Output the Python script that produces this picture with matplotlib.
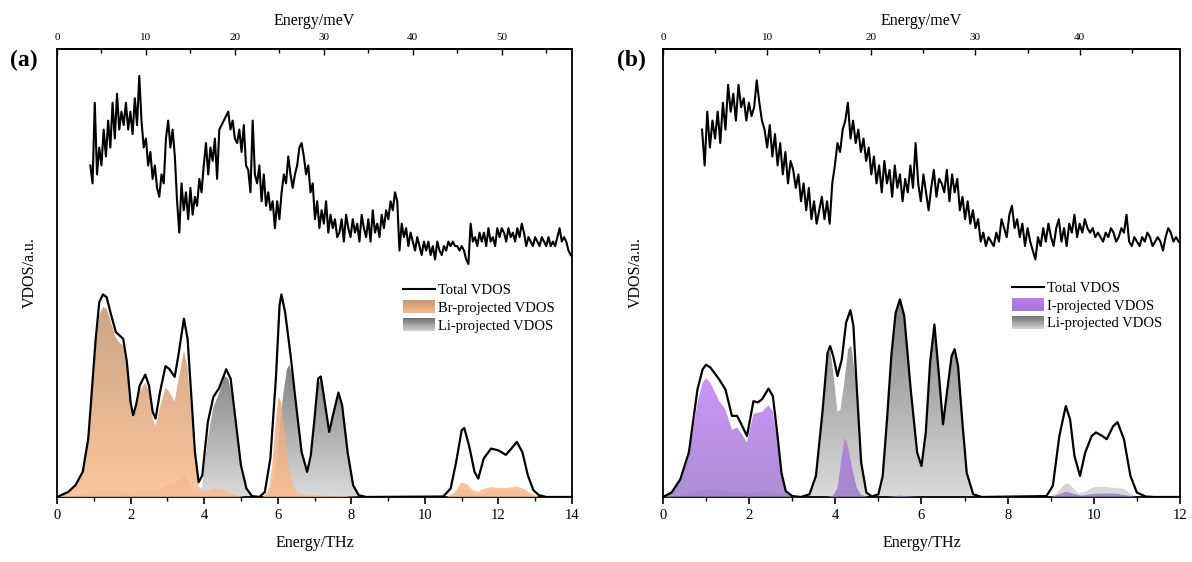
import numpy as np
import matplotlib
matplotlib.use("Agg")
import matplotlib.pyplot as plt
from matplotlib.colors import LinearSegmentedColormap, to_rgb
from matplotlib.legend_handler import HandlerBase
from matplotlib.patches import Rectangle
from matplotlib.lines import Line2D

plt.rcParams['font.family'] = ['Liberation Serif', 'DejaVu Serif']

THZ_TO_MEV = 4.1357

# ---------------- panel (a): LiBr ----------------
# measured VDOS (top curve), energy grid in meV
exp_a_mev = np.arange(3.75, 57.76, 0.25)
exp_a = [74, 70, 88, 72, 78, 74, 82, 76,
         84, 78, 88, 80, 90, 82, 86, 83,
         88, 82, 86, 81, 89, 83, 94, 84,
         78, 80, 74, 77, 71, 74, 69, 67,
         72, 70, 80, 84, 78, 82, 76, 66,
         59, 70, 64, 68, 62, 69, 63, 67,
         65, 71, 68, 74, 79, 72, 78, 75,
         80, 71, 82, 83, 84, 85, 86, 82,
         84, 80, 79, 82, 77, 83, 74, 73,
         68, 84, 72, 70, 74, 66, 72, 65,
         68, 64, 66, 60, 66, 62, 68, 72,
         70, 76, 72, 69, 72, 74, 78, 79,
         76, 72, 74, 68, 70, 62, 66, 60,
         64, 61, 66, 59, 63, 60, 62, 58,
         59, 62, 57, 63, 60, 58, 62, 59,
         61, 57, 63, 60, 58, 62, 57, 64,
         59, 61, 58, 63, 60, 64, 62, 66,
         64, 68, 66, 55, 61, 58, 60, 56,
         59, 57, 55, 58, 56, 54, 57, 55,
         57, 54, 56, 53, 57, 55, 54, 56,
         55, 57, 56, 57, 56, 56, 55, 56,
         55, 53, 52, 61, 57, 58, 56, 59,
         57, 59, 56, 60, 57, 58, 56, 60,
         58, 60, 59, 57, 60, 58, 59, 57,
         60, 58, 61, 59, 56, 58, 57, 56,
         58, 57, 56, 58, 57, 56, 58, 56,
         57, 56, 58, 60, 57, 58, 57, 55,
         54]

# calculated total VDOS (THz, a.u.)
tot_a_x = [0.0, 0.3, 0.5, 0.7, 0.85, 0.95, 1.05, 1.15, 1.25, 1.35, 1.45, 1.6, 1.72, 1.8, 1.9, 2.0,
           2.07, 2.15, 2.25, 2.4, 2.5, 2.6, 2.68, 2.8, 2.95, 3.05, 3.2, 3.3, 3.45, 3.55, 3.65, 3.75,
           3.85, 3.95, 4.1, 4.25, 4.4, 4.6, 4.72, 4.85, 5.0, 5.15, 5.3, 5.5, 5.65, 5.8, 5.95, 6.05,
           6.1, 6.2, 6.35, 6.5, 6.65, 6.8, 6.9, 7.0, 7.1, 7.17, 7.25, 7.4, 7.5, 7.65, 7.75, 7.9,
           8.05, 8.2, 8.4, 10.5, 10.7, 10.85, 11.0, 11.07, 11.2, 11.35, 11.45, 11.6, 11.8, 12.0,
           12.2, 12.35, 12.5, 12.65, 12.8, 12.95, 13.1, 13.3, 14.0]
tot_a_y = [0, 1.1, 2.6, 5.6, 13, 24, 35, 43.5, 45.2, 44.6, 41.3, 36.8, 35.9, 35.3, 30.1, 21.2,
           18.2, 20.5, 24.9, 27.3, 24.9, 19, 17.5, 23.4, 29.2, 28.6, 26.8, 31.6, 39.8, 35.3, 22.7, 10,
           3.3, 4.8, 16.7, 22.3, 24.2, 28.5, 26.4, 17.5, 7.1, 1.9, 0.2, 0, 1.1, 8.6, 26.4, 42.8,
           45.2, 41.3, 31.6, 20.5, 10, 5.6, 9.3, 17.5, 26.4, 26.9, 22.7, 14.5, 18.2, 23.3, 20.5, 10,
           2.6, 0.4, 0, 0.1, 1.9, 7.8, 14.9, 15.4, 11.5, 5.6, 4.1, 8.6, 10.8, 10.4,
           9.4, 10.8, 12.3, 10, 4.8, 1.5, 0.4, 0, 0]

br_x = [0.0, 0.3, 0.5, 0.7, 0.85, 0.95, 1.05, 1.15, 1.25, 1.35, 1.45, 1.6, 1.72, 1.8, 1.9, 2.0,
        2.07, 2.15, 2.25, 2.4, 2.5, 2.6, 2.68, 2.8, 2.95, 3.05, 3.2, 3.3, 3.45, 3.55, 3.65, 3.75,
        3.85, 3.95, 4.1, 4.3, 4.5, 4.7, 4.9, 5.1, 5.6, 5.75, 5.85, 5.95, 6.02, 6.1, 6.2, 6.3,
        6.4, 6.55, 6.8, 7.1, 7.4, 7.7, 8.0, 8.3, 10.6, 10.8, 11.0, 11.15, 11.3, 11.45, 11.6, 11.8,
        12.0, 12.2, 12.5, 12.7, 12.9, 13.1, 14.0]
br_y = [0, 1.0, 2.5, 5.3, 12, 22, 33, 40.5, 42.4, 42, 39.5, 35.5, 34.3, 33.8, 28.5, 20,
        17.5, 19.5, 23.5, 25.6, 23.5, 17.5, 15.8, 20, 24.4, 23.5, 21.3, 26, 32.6, 29, 19, 8,
        2.5, 1.3, 1.5, 1.9, 1.7, 1.0, 0.3, 0, 0, 1.5, 7, 17, 22.5, 21, 14, 7,
        3, 1, 0.3, 0.4, 0.2, 0.3, 0.1, 0, 0, 1.0, 3.2, 2.8, 1.5, 1.2, 1.8, 2.2,
        2.0, 2.0, 2.3, 1.8, 0.7, 0, 0]

li_a_x = [0.0, 0.5, 0.8, 1.0, 1.3, 1.6, 1.8, 2.0, 2.2, 2.4, 2.6, 2.8, 3.0, 3.2, 3.35, 3.45,
          3.55, 3.7, 3.85, 3.95, 4.1, 4.25, 4.4, 4.55, 4.65, 4.75, 4.85, 5.0, 5.15, 5.3, 5.5, 5.7,
          5.85, 5.95, 6.05, 6.15, 6.25, 6.32, 6.45, 6.6, 6.72, 6.82, 6.92, 7.0, 7.1, 7.17, 7.25, 7.4,
          7.5, 7.65, 7.75, 7.9, 8.05, 8.2, 8.4, 10.6, 10.85, 11.0, 11.15, 11.35, 11.6, 11.8, 12.1,
          12.5, 12.8, 13.0, 13.2, 14.0]
li_a_y = [0, 0.3, 0.9, 1.3, 1.5, 1.4, 1.2, 0.8, 1.3, 1.6, 1.2, 1.8, 2.6, 3.0, 3.9, 4.6,
          3.8, 1.5, 1.0, 2.5, 13, 20, 23, 27, 26.5, 23, 16, 6.5, 1.5, 0.2, 0, 0.5,
          2.5, 7, 15, 23, 28.5, 29.5, 25, 14, 8, 5.5, 8.5, 16, 25, 26.5, 22, 14,
          17.5, 23, 20, 9.5, 2.5, 0.3, 0, 0, 0.8, 1.9, 1.5, 0.5, 0.8, 1.4, 1.6,
          1.4, 0.8, 0.2, 0, 0]

# ---------------- panel (b): LiI ----------------
exp_b_mev = np.arange(3.75, 49.51, 0.25)
exp_b = [82, 74, 86, 78, 84, 80, 86, 79,
         88, 82, 92, 86, 90, 84, 92, 87,
         89, 84, 88, 85, 87, 93, 88, 84,
         82, 78, 83, 76, 81, 74, 79, 72,
         77, 70, 75, 73, 69, 72, 66, 70,
         64, 69, 62, 66, 61, 64, 67, 62,
         66, 61, 70, 74, 79, 77, 82, 84,
         88, 80, 84, 79, 82, 77, 80, 75,
         78, 72, 76, 70, 74, 68, 75, 70,
         73, 67, 74, 69, 72, 66, 71, 68,
         74, 69, 79, 70, 66, 72, 68, 64,
         69, 73, 67, 71, 70, 68, 73, 66,
         72, 68, 71, 64, 67, 62, 66, 61,
         64, 60, 62, 57, 59, 56, 58, 57,
         56, 59, 57, 62, 60, 58, 63, 65,
         60, 62, 58, 61, 56, 60, 57, 55,
         53, 58, 56, 60, 57, 61, 58, 56,
         60, 62, 57, 60, 56, 61, 59, 63,
         58, 61, 59, 62, 60, 59, 60, 58,
         59, 58, 57, 59, 58, 60, 59, 57,
         58, 60, 59, 63, 57, 56, 58, 57,
         56, 58, 57, 59, 58, 56, 57, 58,
         57, 55, 58, 60, 59, 57, 58, 57]

tot_b_x = [0.0, 0.2, 0.4, 0.6, 0.8, 0.92, 1.0, 1.1, 1.3, 1.45, 1.6, 1.72, 1.8, 1.95, 2.1, 2.2,
           2.3, 2.45, 2.55, 2.65, 2.75, 2.85, 3.0, 3.2, 3.4, 3.55, 3.7, 3.82, 3.88, 3.95, 4.05, 4.15,
           4.25, 4.35, 4.42, 4.5, 4.6, 4.72, 4.85, 5.0, 5.1, 5.2, 5.3, 5.4, 5.5, 5.6, 5.75, 5.9,
           6.0, 6.1, 6.2, 6.3, 6.4, 6.5, 6.6, 6.7, 6.77, 6.85, 6.95, 7.05, 7.2, 7.4, 8.9, 9.05,
           9.2, 9.35, 9.45, 9.55, 9.68, 9.8, 9.95, 10.05, 10.2, 10.3, 10.45, 10.55, 10.7, 10.85,
           11.0, 11.2, 11.4, 12.0]
tot_b_y = [0, 1.0, 3.9, 9.9, 24, 28.5, 29.5, 28.9, 26.3, 24, 18.1, 18.1, 16.6, 13.6, 21.4, 21.1,
           21.8, 24.2, 22.5, 14.4, 5.4, 1.3, 0.2, 0, 0.6, 4.7, 18.8, 32.2, 33.7, 31.5, 27, 30.7,
           38.9, 41.7, 38.2, 24, 7.7, 1, 0.1, 0.6, 4.7, 17.3, 31.5, 41.1, 44.1, 40.4, 24, 9.9,
           6.9, 14.4, 30, 38.5, 27.8, 16.2, 24, 31.5, 33, 29.2, 16.6, 5.4, 0.6, 0, 0.2, 2.5,
           13.6, 20.3, 17.3, 9.2, 4.7, 9.9, 13.6, 14.4, 13.6, 12.9, 15.8, 16.7, 12.9, 4.7,
           1, 0.1, 0, 0]

i_x = [0.0, 0.2, 0.4, 0.6, 0.8, 0.92, 1.0, 1.1, 1.3, 1.45, 1.6, 1.72, 1.8, 1.95, 2.1, 2.2,
       2.3, 2.45, 2.55, 2.65, 2.75, 2.85, 3.0, 3.2, 3.8, 3.95, 4.05, 4.15, 4.22, 4.3, 4.4, 4.5,
       4.6, 4.75, 5.2, 5.5, 5.8, 6.0, 9.0, 9.2, 9.35, 9.5, 9.7, 10.0, 10.3, 10.55, 10.8, 11.0, 12.0]
i_y = [0, 0.8, 3.5, 9, 21, 25.5, 26.5, 25.5, 21.5, 19.5, 15, 15.5, 14.5, 12.2, 18.5, 18.8,
       19, 20.5, 19, 13, 5, 1.2, 0.1, 0, 0, 0.3, 2, 9, 13.2, 11, 6, 2,
       0.5, 0, 0, 0.3, 0.1, 0, 0, 0.6, 1.2, 0.8, 0.3, 0.7, 0.8, 0.7, 0.3, 0, 0]

li_b_x = [0.0, 0.4, 0.7, 1.0, 1.3, 1.6, 2.0, 2.4, 2.7, 2.9, 3.1, 3.35, 3.55, 3.7, 3.82, 3.88,
          3.95, 4.05, 4.12, 4.2, 4.3, 4.37, 4.45, 4.55, 4.65, 4.75, 4.9, 5.0, 5.1, 5.2, 5.3, 5.4,
          5.5, 5.6, 5.75, 5.9, 6.0, 6.1, 6.2, 6.3, 6.4, 6.5, 6.6, 6.7, 6.77, 6.85, 6.95, 7.05,
          7.2, 7.4, 9.0, 9.15, 9.3, 9.4, 9.5, 9.65, 9.8, 10.0, 10.2, 10.5, 10.7, 10.85, 11.0, 11.2, 12.0]
li_b_y = [0, 0.2, 1.2, 1.8, 1.5, 1.1, 1.0, 1.3, 0.8, 0.2, 0, 0.2, 4.2, 18, 31.5, 33,
          28, 19, 19.5, 25, 33, 33.8, 28, 14, 4.5, 0.8, 0, 0.5, 4.5, 17, 31.3, 41,
          44, 40.3, 24, 9.8, 6.8, 14.3, 30, 38.5, 27.7, 16.1, 24, 31.5, 33, 29.2, 16.5, 5.3,
          0.5, 0, 0, 1.0, 2.6, 3.1, 2.2, 0.8, 1.2, 2.2, 2.3, 2.0, 1.8, 0.8, 0.1, 0, 0]

ORANGE = ('#c29672', '#fdbb8b')
GRAY = ('#6c6c6c', '#d4d4d4')
PURPLE = ('#bf7cf8', '#9a76cc')


def gradient_fill(ax, x, y, colors, alpha, zorder):
    x = np.asarray(x, float)
    y = np.asarray(y, float)
    poly = ax.fill_between(x, 0, y, facecolor='none', edgecolor='none')
    cmap = LinearSegmentedColormap.from_list('g', [colors[1], colors[0]])
    grad = np.linspace(0, 1, 256).reshape(-1, 1)
    im = ax.imshow(grad, cmap=cmap, origin='lower', aspect='auto',
                   extent=[x.min(), x.max(), 0, y.max()], alpha=alpha, zorder=zorder)
    im.set_clip_path(poly.get_paths()[0], transform=ax.transData)


class GradientHandle:
    def __init__(self, colors):
        self.colors = colors


class HandlerGradient(HandlerBase):
    def create_artists(self, legend, orig_handle, xdescent, ydescent, width, height, fontsize, trans):
        top = np.array(to_rgb(orig_handle.colors[0]))
        bot = np.array(to_rgb(orig_handle.colors[1]))
        n = 16
        h = height * 1.3
        y0 = -ydescent - 0.15 * height
        arts = []
        for i in range(n):
            f = (i + 0.5) / n
            col = bot * (1 - f) + top * f
            arts.append(Rectangle((-xdescent, y0 + h * i / n), width, h / n * 1.05,
                                  facecolor=col, edgecolor='none', transform=trans))
        return arts


def setup(ax, xmax, mev_major, mev_minor):
    ax.set_xlim(0, xmax)
    ax.set_ylim(0, 100)
    ax.set_yticks([])
    ax.set_xticks(np.arange(0, xmax + 0.1, 2))
    ax.set_xticks(np.arange(1, xmax, 2), minor=True)
    ax.tick_params(axis='x', which='major', direction='out', length=5, width=1.2, labelsize=10.5, pad=4)
    ax.tick_params(axis='x', which='minor', direction='out', length=3, width=1.0)
    for s in ax.spines.values():
        s.set_linewidth(1.3)
    ax.set_xlabel('Energy/THz', fontsize=11.5, labelpad=9)
    ax.set_ylabel('VDOS/a.u.', fontsize=11.5, labelpad=14)
    sec = ax.secondary_xaxis('top', functions=(lambda t: t * THZ_TO_MEV, lambda m: m / THZ_TO_MEV))
    sec.set_xticks(mev_major)
    sec.set_xticks(mev_minor, minor=True)
    sec.tick_params(axis='x', which='major', direction='in', length=4, width=1.0, labelsize=8, pad=5)
    sec.tick_params(axis='x', which='minor', direction='in', length=3, width=1.0)
    sec.spines['top'].set_linewidth(1.3)
    sec.set_xlabel('Energy/meV', fontsize=11.5, labelpad=6)


fig = plt.figure(figsize=(11.92, 5.62), dpi=100)
ax1 = fig.add_axes([0.0478, 0.1157, 0.4321, 0.7972])
ax2 = fig.add_axes([0.5562, 0.1157, 0.4337, 0.7972])

# panel (a)
gradient_fill(ax1, li_a_x, li_a_y, GRAY, 0.85, 2)
gradient_fill(ax1, br_x, br_y, ORANGE, 0.85, 3)
ax1.plot(tot_a_x, tot_a_y, color='black', lw=1.6, zorder=4)
ax1.plot(exp_a_mev / THZ_TO_MEV, exp_a, color='black', lw=1.5, zorder=4)
setup(ax1, 14, np.arange(0, 51, 10), np.arange(5, 58, 10))
ax1.legend([Line2D([], [], color='black', lw=1.5), GradientHandle(ORANGE), GradientHandle(GRAY)],
           ['Total VDOS', 'Br-projected VDOS', 'Li-projected VDOS'],
           handler_map={GradientHandle: HandlerGradient()},
           loc='upper left', bbox_to_anchor=(0.672, 0.475), frameon=False, fontsize=10.5,
           handlelength=2.2, handletextpad=0.2, labelspacing=0.3, borderpad=0, borderaxespad=0)

# panel (b)
gradient_fill(ax2, li_b_x, li_b_y, GRAY, 0.85, 2)
gradient_fill(ax2, i_x, i_y, PURPLE, 0.82, 3)
ax2.plot(tot_b_x, tot_b_y, color='black', lw=1.6, zorder=4)
ax2.plot(exp_b_mev / THZ_TO_MEV, exp_b, color='black', lw=1.5, zorder=4)
setup(ax2, 12, np.arange(0, 41, 10), np.arange(5, 50, 10))
ax2.legend([Line2D([], [], color='black', lw=1.5), GradientHandle(PURPLE), GradientHandle(GRAY)],
           ['Total VDOS', 'I-projected VDOS', 'Li-projected VDOS'],
           handler_map={GradientHandle: HandlerGradient()},
           loc='upper left', bbox_to_anchor=(0.675, 0.48), frameon=False, fontsize=10.5,
           handlelength=2.2, handletextpad=0.2, labelspacing=0.3, borderpad=0, borderaxespad=0)

fig.text(0.020, 0.893, '(a)', fontsize=17, fontweight='bold', ha='center', va='center')
fig.text(0.530, 0.893, '(b)', fontsize=17, fontweight='bold', ha='center', va='center')

fig.savefig('out.png', dpi=100)
